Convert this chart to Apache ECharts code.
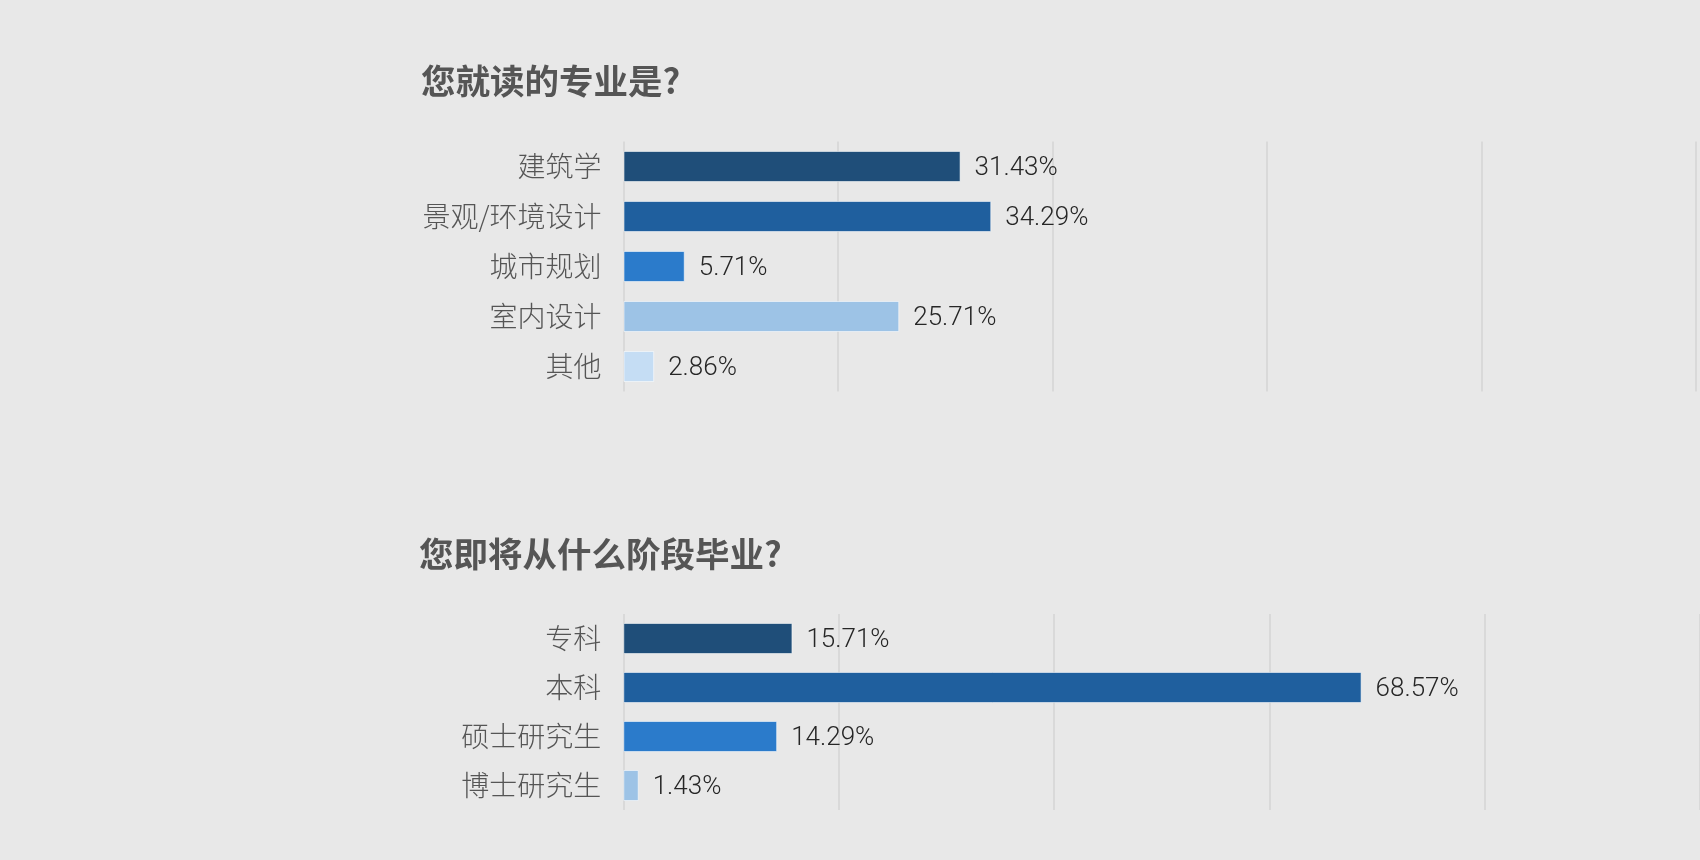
<!DOCTYPE html>
<html>
<head>
<meta charset="utf-8">
<script src="https://cdn.jsdelivr.net/npm/echarts@6/dist/echarts.min.js"></script>
<style>
html,body{margin:0;padding:0;background:#E8E8E8;}
#chart{width:1700px;height:860px;}
</style>
</head>
<body>
<div id="chart"></div>
<script>
const title1 = '您就读的专业是?';
const title2 = '您即将从什么阶段毕业?';
const majorCategories = ['建筑学', '景观/环境设计', '城市规划', '室内设计', '其他'];
const majorValues = [31.43, 34.29, 5.71, 25.71, 2.86];
const stageCategories = ['专科', '本科', '硕士研究生', '博士研究生'];
const stageValues = [15.71, 68.57, 14.29, 1.43];
const palette = ['#1F4E79', '#1F5F9E', '#2B7BCB', '#9DC3E6', '#C5DDF4'];

const chart = echarts.init(document.getElementById('chart'));
const labelFont = "Roboto, 'Noto Sans CJK SC', sans-serif";
const cjkFont = "'Noto Sans CJK SC', sans-serif";

function xAxisCfg(idx) {
  return {
    gridIndex: idx, type: 'value', min: 0, max: 100, interval: 20,
    axisLabel: { show: false }, axisLine: { show: false }, axisTick: { show: false },
    splitLine: { show: true, lineStyle: { color: '#D4D4D4', width: 1.5 } }
  };
}
function yAxisCfg(idx, cats) {
  return {
    gridIndex: idx, type: 'category', inverse: true, data: cats,
    axisLine: { show: false }, axisTick: { show: false },
    axisLabel: { fontSize: 28, color: '#555555', margin: 22, fontFamily: cjkFont, fontWeight: 300 }
  };
}
function seriesCfg(idx, vals) {
  return {
    type: 'bar', xAxisIndex: idx, yAxisIndex: idx, barWidth: 31,
    data: vals.map((v, i) => ({ value: v, itemStyle: { color: palette[i] } })),
    itemStyle: { borderColor: 'rgba(255,255,255,0.55)', borderWidth: 1 },
    label: {
      show: true, position: 'right', distance: 14, offset: [0, 2],
      fontSize: 26, fontWeight: 300, color: '#262626', fontFamily: labelFont,
      formatter: p => p.value.toFixed(2) + '%'
    },
    animation: false
  };
}

chart.setOption({
  backgroundColor: '#E8E8E8',
  animation: false,
  title: [
    { text: title1, left: 421, top: 64, padding: 0,
      textStyle: { fontSize: 34.5, fontWeight: 'bold', color: '#555555', fontFamily: cjkFont } },
    { text: title2, left: 419, top: 537, padding: 0,
      textStyle: { fontSize: 34.5, fontWeight: 'bold', color: '#555555', fontFamily: cjkFont } }
  ],
  grid: [
    { left: 623.5, right: 4, top: 141.5, height: 250, containLabel: false },
    { left: 623.3, right: 0, top: 614, height: 196, containLabel: false }
  ],
  xAxis: [xAxisCfg(0), xAxisCfg(1)],
  yAxis: [yAxisCfg(0, majorCategories), yAxisCfg(1, stageCategories)],
  series: [seriesCfg(0, majorValues), seriesCfg(1, stageValues)]
});
</script>
</body>
</html>
